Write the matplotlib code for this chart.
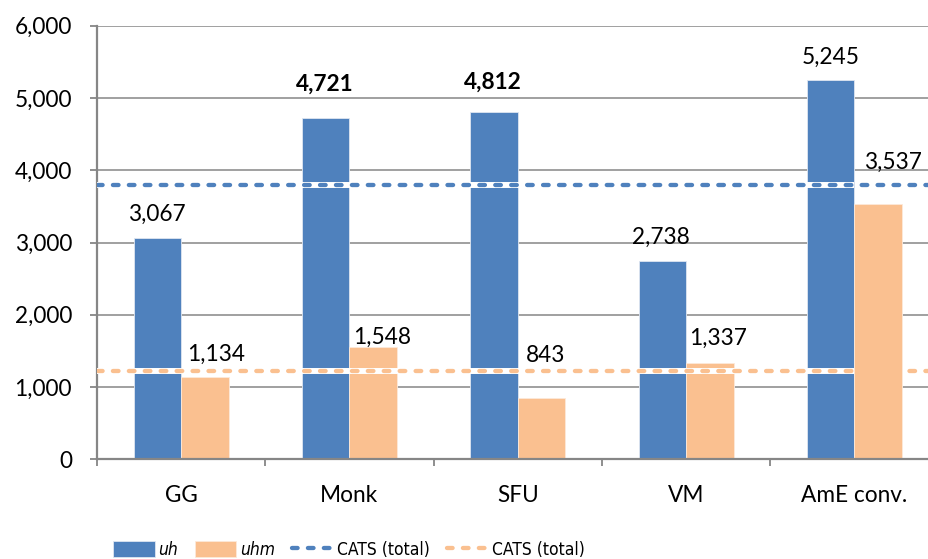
import numpy as np
import matplotlib
matplotlib.use("Agg")
import matplotlib.pyplot as plt
from matplotlib.ticker import FuncFormatter
from matplotlib import font_manager

plt.rcParams['font.family'] = ['Lato', 'DejaVu Sans']

# corpus counts per source
categories = ["GG", "Monk", "SFU", "VM", "AmE conv."]
uh = [3067, 4721, 4812, 2738, 5245]
uhm = [1134, 1548, 843, 1337, 3537]
cats_uh_total = 3800
cats_uhm_total = 1220
bold_uh = [False, True, True, False, False]

# hand-placed label offsets (pixels) relative to each bar top
uh_label_offsets = [(-1, 25), (-1, 36), (-1, 31.5), (-1, 25.5), (0, 25)]
uhm_label_offsets = [(11, 25), (8.5, 12), (4.5, 45), (8.5, 26), (15, 43.5)]

BLUE = "#4F81BD"
ORANGE = "#FAC090"
GRID = "#868686"
FS = 16.3

# narrow face for the legend if one is around
legend_prop = {"family": "Lato", "size": 13}
for f in font_manager.fontManager.ttflist:
    if f.name == "Liberation Sans Narrow":
        legend_prop = {"family": "Liberation Sans Narrow", "size": 13.5}
        break
    if f.name == "DejaVu Sans" and f.stretch in ("condensed", "semi-condensed"):
        legend_prop = {"family": "DejaVu Sans", "stretch": "condensed", "size": 12.5}

fig = plt.figure(figsize=(9.29, 5.59), dpi=100)
ax = fig.add_axes([97 / 929, (559 - 459.3) / 559, (938.6 - 97) / 929, (459.3 - 25.7) / 559])

x = np.arange(len(categories))
width = 0.2823

ax.yaxis.grid(True, color=GRID, linewidth=1.1, zorder=0.5)
ax.set_axisbelow(True)

b1 = ax.bar(x - width / 2, uh, width, color=BLUE, edgecolor="#dfe6f1", linewidth=0.6, zorder=2)
b2 = ax.bar(x + width / 2, uhm, width, color=ORANGE, edgecolor="#fde9d9", linewidth=0.6, zorder=2)

# reference lines with a white band underneath
for level in [cats_uh_total, cats_uhm_total]:
    ax.plot([-0.5, 4.0], [level, level], color="white", linewidth=4.3,
            solid_capstyle="butt", zorder=3)
lines = []
for level, color in [(cats_uh_total, BLUE), (cats_uhm_total, ORANGE)]:
    ln, = ax.plot([-0.5, 4.5], [level, level], color=color, linewidth=3.1,
                  dashes=(1.3, 2.4), dash_capstyle="round", zorder=4)
    lines.append(ln)

# value labels
for i, v in enumerate(uh):
    dx, dy = uh_label_offsets[i]
    ax.annotate(f"{v:,}", xy=(x[i] - width / 2, v), xytext=(dx, dy - 8.2),
                textcoords="offset pixels", ha="center", va="baseline",
                fontsize=FS, fontweight="bold" if bold_uh[i] else "normal", zorder=5)
for i, v in enumerate(uhm):
    dx, dy = uhm_label_offsets[i]
    ax.annotate(f"{v:,}", xy=(x[i] + width / 2, v), xytext=(dx, dy - 8.2),
                textcoords="offset pixels", ha="center", va="baseline",
                fontsize=FS, zorder=5)

ax.set_xlim(-0.5, 4.5)
ax.set_ylim(0, 6000)
ax.set_yticks(np.arange(0, 6001, 1000))
ax.yaxis.set_major_formatter(FuncFormatter(lambda v, p: f"{int(v):,}"))

ax.set_xticks(np.arange(-0.5, 4.6, 1.0))
ax.set_xticklabels([])
ax.set_xticks(x, minor=True)
ax.set_xticklabels(categories, minor=True)

ax.tick_params(axis="y", which="major", length=5, width=1.3, color=GRID,
               direction="out", pad=13, labelsize=FS)
ax.tick_params(axis="x", which="major", length=5, width=1.3, color=GRID, direction="out")
ax.tick_params(axis="x", which="minor", length=0, pad=18.5, labelsize=FS)

for side in ["top", "right"]:
    ax.spines[side].set_visible(False)
for side in ["left", "bottom"]:
    ax.spines[side].set_color(GRID)
    ax.spines[side].set_linewidth(1.6)

leg = fig.legend([b1, b2, lines[0], lines[1]], ["uh", "uhm", "CATS (total)", "CATS (total)"],
                 loc="center left", bbox_to_anchor=(113 / 929, 0.0166), ncol=4,
                 frameon=False, prop=legend_prop,
                 borderpad=0, borderaxespad=0,
                 handlelength=2.4, handleheight=1.0, handletextpad=0.22,
                 columnspacing=0.95)
for t in leg.get_texts()[:2]:
    t.set_style("italic")

fig.savefig("out.png", dpi=100)
